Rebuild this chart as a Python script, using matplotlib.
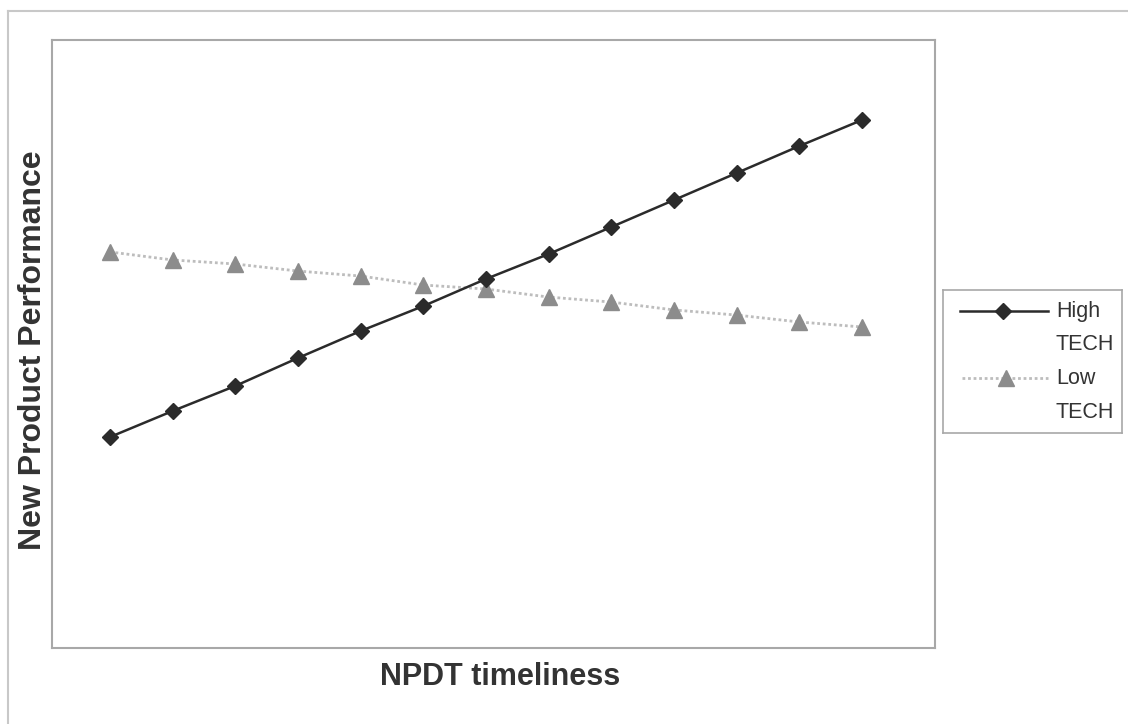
import matplotlib
matplotlib.use("Agg")
import matplotlib.pyplot as plt
from matplotlib.lines import Line2D

plt.rcParams['font.family'] = ['Liberation Sans', 'DejaVu Sans']

# Data (arbitrary units)
steps = list(range(13))
high_tech = [1.735, 1.949, 2.155, 2.385, 2.607, 2.812, 3.035, 3.240, 3.462, 3.684, 3.906, 4.128, 4.342]
low_tech = [3.257, 3.191, 3.158, 3.100, 3.059, 2.985, 2.952, 2.886, 2.845, 2.780, 2.738, 2.681, 2.640]
series_names = [("High", "TECH"), ("Low", "TECH")]
x_label = "NPDT timeliness"
y_label = "New Product Performance"

W, H = 1128, 724
fig = plt.figure(figsize=(W / 100, H / 100), dpi=100)
fig.patch.set_facecolor("white")

# outer frame (top and left visible)
fig.add_artist(Line2D([8 / W, 1.0], [1 - 11 / H, 1 - 11 / H], color="#c8c8c8", lw=1.5))
fig.add_artist(Line2D([8 / W, 8 / W], [0, 1 - 11 / H], color="#c8c8c8", lw=1.5))

ax = fig.add_axes([52 / W, (H - 648) / H, 883 / W, 608 / H])
high_col = "#2b2b2b"
low_col = "#8c8c8c"
ax.plot(steps, low_tech, color="#bdbdbd", lw=2.0, ls=(0, (1, 1)), marker="^",
        markersize=12, markerfacecolor=low_col, markeredgecolor=low_col, zorder=2)
ax.plot(steps, high_tech, color=high_col, lw=1.8, marker="D",
        markersize=8.5, markerfacecolor=high_col, markeredgecolor=high_col, zorder=3)
ax.set_xlim(-0.925, 13.165)
ax.set_ylim(0, 5)
ax.set_xticks([])
ax.set_yticks([])
for s in ax.spines.values():
    s.set_color("#a8a8a8")
    s.set_linewidth(1.5)

fig.text(33 / W, 1 - 350 / H, y_label, rotation=90, ha="center", va="center",
         fontsize=23, fontweight="bold", color="#333333")
fig.text(500 / W, 1 - 677 / H, x_label, ha="center", va="center",
         fontsize=22, fontweight="bold", color="#333333")

# legend box drawn in its own small axes
lx0, lx1, ly0, ly1 = 943, 1122, 290, 433
lax = fig.add_axes([lx0 / W, (H - ly1) / H, (lx1 - lx0) / W, (ly1 - ly0) / H])
lax.set_xlim(lx0, lx1)
lax.set_ylim(ly1, ly0)
lax.set_xticks([])
lax.set_yticks([])
for s in lax.spines.values():
    s.set_color("#a8a8a8")
    s.set_linewidth(1.2)
lax.plot([960, 1048], [311, 311], color=high_col, lw=1.8)
lax.plot([1003], [311], marker="D", markersize=8.5, color=high_col)
lax.plot([962, 1048], [378, 378], color="#bdbdbd", lw=2.0, ls=(0, (1, 1)))
lax.plot([1006], [378], marker="^", markersize=12, color=low_col)
for (a, b), yy in zip(series_names, [311, 378]):
    lax.text(1056, yy, a, ha="left", va="center", fontsize=15.5, color="#333333")
    lax.text(1056, yy + 34, b, ha="left", va="center", fontsize=15.5, color="#333333")

fig.savefig("out.png", dpi=100, facecolor="white")
